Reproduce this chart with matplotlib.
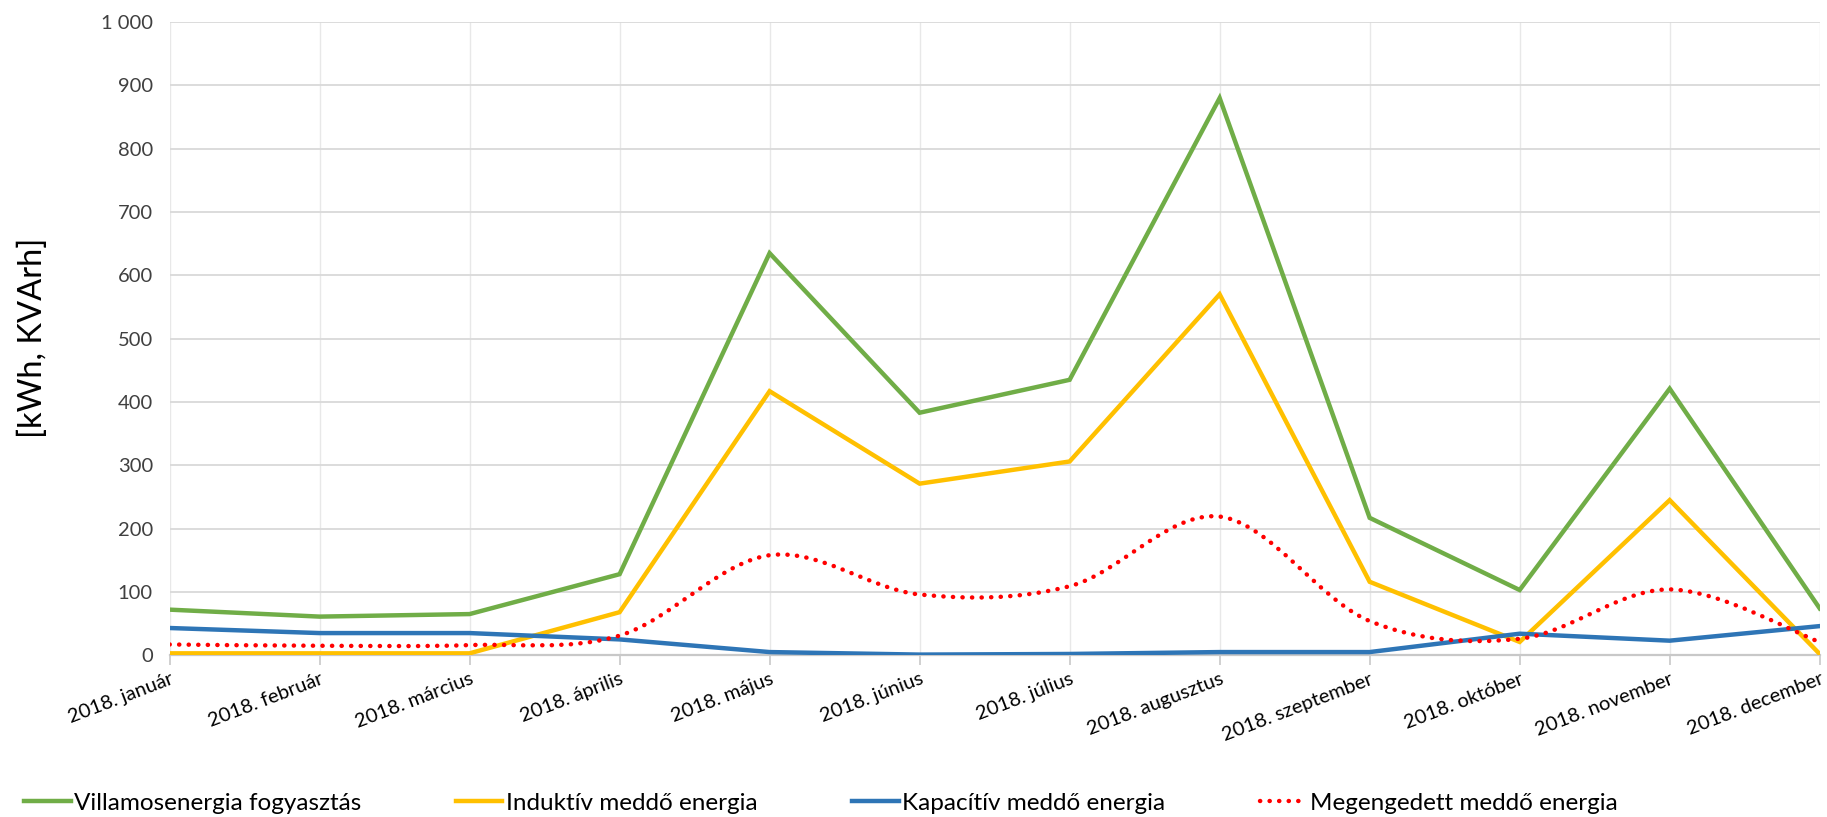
import matplotlib
matplotlib.use("Agg")
import matplotlib.pyplot as plt
from matplotlib.path import Path
from matplotlib.patches import PathPatch
from matplotlib.lines import Line2D
from matplotlib.ticker import FuncFormatter
import numpy as np

plt.rcParams['font.family'] = ['Lato', 'DejaVu Sans']

months = ['2018. január', '2018. február', '2018. március', '2018. április',
          '2018. május', '2018. június', '2018. július', '2018. augusztus',
          '2018. szeptember', '2018. október', '2018. november', '2018. december']

villamos = [72, 61, 65, 128, 635, 383, 435, 880, 217, 103, 421, 74]
induktiv = [3, 3, 3, 68, 417, 271, 306, 570, 116, 21, 245, 2]
kapacitiv = [43, 35, 35, 25, 5, 1, 2, 5, 5, 34, 23, 46]
megengedett = [17, 15, 16, 31, 158, 96, 109, 219, 54, 26, 104, 21]

labels = ['Villamosenergia fogyasztás', 'Induktív meddő energia',
          'Kapacítív meddő energia', 'Megengedett meddő energia']
colors = ['#70AD47', '#FFC000', '#2E75B6', '#FF0000']


def smooth_path(xs, ys, t=1 / 6):
    """ Excel-like smoothed line: cubic bezier segments through the points. """
    xs = np.asarray(xs, float)
    ys = np.asarray(ys, float)
    n = len(xs)
    verts = [(xs[0], ys[0])]
    codes = [Path.MOVETO]
    for i in range(n - 1):
        p0 = max(i - 1, 0)
        p3 = min(i + 2, n - 1)
        c1 = (xs[i] + (xs[i + 1] - xs[p0]) * t, ys[i] + (ys[i + 1] - ys[p0]) * t)
        c2 = (xs[i + 1] - (xs[p3] - xs[i]) * t, ys[i + 1] - (ys[p3] - ys[i]) * t)
        verts += [c1, c2, (xs[i + 1], ys[i + 1])]
        codes += [Path.CURVE4] * 3
    return Path(verts, codes)


fig = plt.figure(figsize=(18.27, 8.17), dpi=100)
ax = fig.add_axes([0.0928, 0.198, 0.9032, 0.775])

x = np.arange(len(months))
lw = 3.2
dots = (0, (0.05, 2.1))
ax.plot(x, villamos, color=colors[0], lw=lw, solid_joinstyle='miter', zorder=3)
ax.plot(x, induktiv, color=colors[1], lw=lw, solid_joinstyle='miter', zorder=3)
ax.plot(x, kapacitiv, color=colors[2], lw=lw, solid_joinstyle='miter', zorder=3)
patch = PathPatch(smooth_path(x, megengedett), fill=False, edgecolor=colors[3],
                  lw=lw, linestyle=dots, capstyle='round', zorder=4)
ax.add_patch(patch)

ax.set_xlim(0, len(months) - 1)
ax.set_ylim(0, 1000)
ax.set_yticks(np.arange(0, 1001, 100))
ax.yaxis.set_major_formatter(FuncFormatter(lambda v, p: f"{int(v):,}".replace(',', ' ')))
ax.set_xticks(x)
ax.set_xticklabels(months, rotation=21, ha='right', rotation_mode='anchor')

ax.grid(axis='y', color='#d9d9d9', lw=1.3)
ax.grid(axis='x', color='#e8e8e8', lw=1.0)
ax.set_axisbelow(True)
for s in ['top', 'right', 'left']:
    ax.spines[s].set_visible(False)
ax.spines['bottom'].set_color('#c8c8c8')
ax.spines['bottom'].set_linewidth(1.6)

ax.tick_params(axis='y', length=0, labelsize=14.5, labelcolor='#404040', pad=12)
ax.tick_params(axis='x', length=7, width=1.2, color='#c8c8c8', labelsize=14.5,
               labelcolor='#000000', pad=4)

fig.text(0.018, 0.586, '[kWh, KVArh]', rotation=90, fontsize=23.5, va='center', ha='center')

handles = [Line2D([], [], color=c, lw=lw) for c in colors[:3]]
handles.append(Line2D([], [], color=colors[3], lw=lw, linestyle=dots,
                      dash_capstyle='round'))
fig.legend(handles, labels, loc='lower left', bbox_to_anchor=(0.008, -0.008),
           ncol=4, frameon=False, fontsize=17.5, handlelength=1.9,
           handletextpad=0.15, columnspacing=3.9, borderaxespad=0)

fig.savefig('out.png', dpi=100)
